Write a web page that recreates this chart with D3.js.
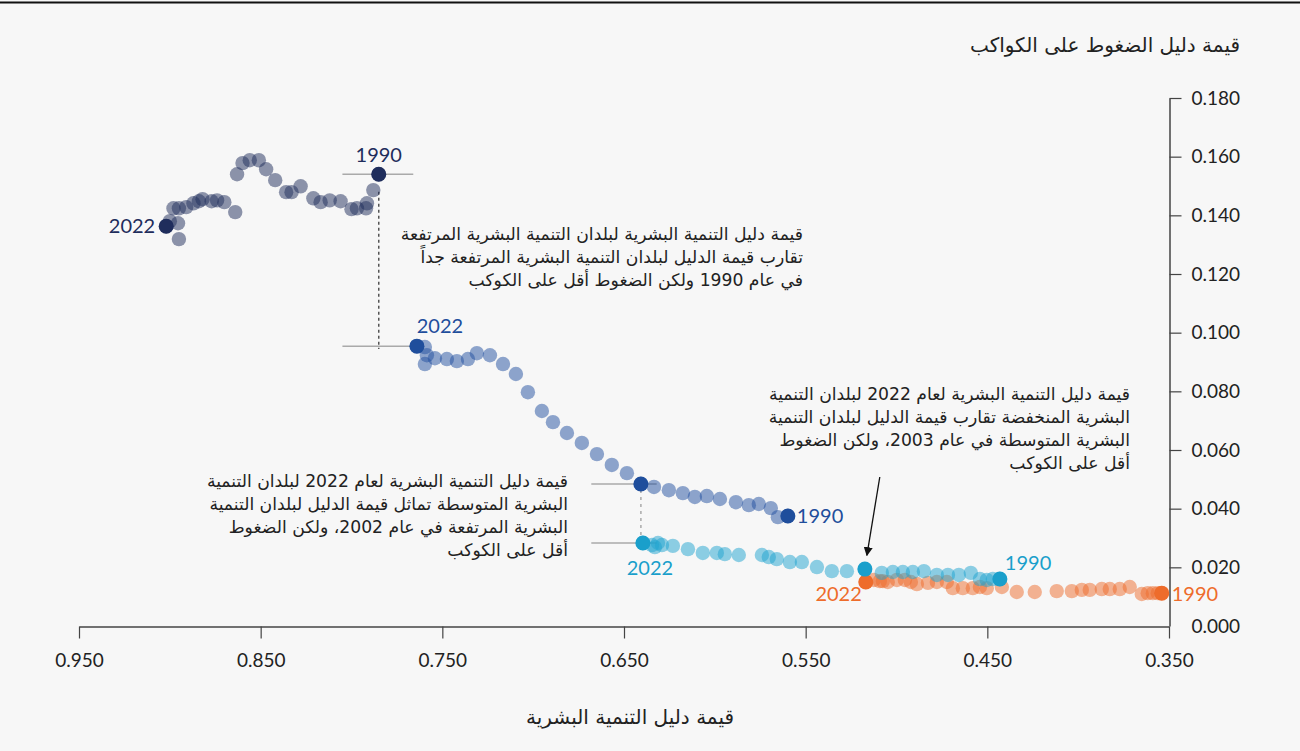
<!DOCTYPE html>
<html><head><meta charset="utf-8">
<script src="https://cdn.jsdelivr.net/npm/d3@7"></script>
<style>
body{margin:0;background:#f7f7f7;}
svg{display:block;}
.ar{font-family:"DejaVu Sans",sans-serif;}
.num{font-family:Lato,"Open Sans",sans-serif;}
</style>
</head><body>
<svg id="chart" width="1300" height="751"></svg>
<script>
// Years 1990 .. 2022 (index 0 = 1990, last = 2022)
const years = d3.range(1990, 2023);

const hdiVeryHigh = [0.785,0.788,0.7915,0.792,0.797,0.800,0.806,0.812,0.817,0.821,0.828,0.833,0.836,0.842,0.847,0.851,0.856,0.860,0.863,0.864,0.870,0.874,0.877,0.882,0.884,0.887,0.891,0.895,0.898,0.900,0.8955,0.895,0.902];
const ppiVeryHigh = [0.1540,0.1486,0.1441,0.1424,0.1424,0.1421,0.1448,0.1451,0.1445,0.1458,0.1499,0.1479,0.1479,0.1520,0.1557,0.1588,0.1588,0.1578,0.1540,0.1411,0.1445,0.1451,0.1448,0.1455,0.1448,0.1441,0.1428,0.1424,0.1424,0.1380,0.1373,0.1319,0.1363];

const hdiHigh = [0.5598,0.5653,0.5692,0.5758,0.5813,0.5884,0.5972,0.6044,0.611,0.6176,0.6253,0.6335,0.6407,0.6484,0.6567,0.6649,0.6732,0.6814,0.6891,0.6952,0.7029,0.7095,0.7166,0.7238,0.731,0.7359,0.742,0.7475,0.7541,0.7596,0.7585,0.7596,0.764];
const ppiHigh = [0.0375,0.0371,0.0402,0.0416,0.0412,0.0422,0.0433,0.0443,0.0440,0.0453,0.0463,0.0474,0.0484,0.0521,0.0549,0.0586,0.0624,0.0658,0.0695,0.0733,0.0797,0.0859,0.0893,0.0923,0.0930,0.0910,0.0903,0.0910,0.0913,0.0893,0.0923,0.0951,0.0954];

const hdiMedium = [0.4431,0.447,0.4503,0.4541,0.4591,0.4657,0.4717,0.4778,0.4849,0.491,0.4965,0.502,0.5081,0.5174,0.5273,0.5356,0.5438,0.5521,0.5587,0.5659,0.5703,0.5741,0.5868,0.5945,0.5989,0.6066,0.6148,0.6231,0.6291,0.633,0.6313,0.6346,0.6396];
const ppiMedium = [0.0160,0.0160,0.0157,0.0160,0.0181,0.0174,0.0174,0.0174,0.0187,0.0184,0.0184,0.0184,0.0181,0.0194,0.0187,0.0187,0.0201,0.0218,0.0218,0.0228,0.0235,0.0242,0.0242,0.0245,0.0249,0.0249,0.0262,0.0273,0.0276,0.0269,0.0283,0.0276,0.0283];

const hdiLow = [0.354,0.3562,0.3589,0.3617,0.365,0.3716,0.3771,0.3826,0.387,0.3936,0.398,0.4035,0.4118,0.4239,0.4338,0.442,0.4503,0.4541,0.458,0.4635,0.469,0.4723,0.4778,0.4827,0.4888,0.4921,0.4954,0.4998,0.5048,0.5075,0.5092,0.5125,0.5169];
const ppiLow = [0.0112,0.0112,0.0112,0.0112,0.0109,0.0133,0.0126,0.0126,0.0126,0.0123,0.0123,0.0119,0.0119,0.0116,0.0116,0.0133,0.0129,0.0133,0.0129,0.0129,0.0129,0.0150,0.0150,0.0147,0.0143,0.0150,0.0157,0.0157,0.0150,0.0153,0.0153,0.0157,0.0150];

const xTicks = [0.950,0.850,0.750,0.650,0.550,0.450,0.350];
const yTicks = [0,0.02,0.04,0.06,0.08,0.10,0.12,0.14,0.16,0.18];

const xTitle = "قيمة دليل التنمية البشرية";
const yTitle = "قيمة دليل الضغوط على الكواكب";

const note1 = ["قيمة دليل التنمية البشرية لبلدان التنمية البشرية المرتفعة",
               "تقارب قيمة الدليل لبلدان التنمية البشرية المرتفعة جداً",
               "في عام 1990 ولكن الضغوط أقل على الكوكب"];
const note2 = ["قيمة دليل التنمية البشرية لعام 2022 لبلدان التنمية",
               "البشرية المنخفضة تقارب قيمة الدليل لبلدان التنمية",
               "البشرية المتوسطة في عام 2003، ولكن الضغوط",
               "أقل على الكوكب"];
const note3 = ["قيمة دليل التنمية البشرية لعام 2022 لبلدان التنمية",
               "البشرية المتوسطة تماثل قيمة الدليل لبلدان التنمية",
               "البشرية المرتفعة في عام 2002، ولكن الضغوط",
               "أقل على الكوكب"];

const series = [
  {name:"low", hdi:hdiLow, ppi:ppiLow, light:"#ee6c2b", key:"#ee6c2b", lab:"#ee6c2b",
   keys:[{i:0, dx:10, dy:8, anchor:"start"},{i:32, dx:-4, dy:19, anchor:"end"}]},
  {name:"medium", hdi:hdiMedium, ppi:ppiMedium, light:"#1fa4cf", key:"#1a9fcb", lab:"#1a9fcb",
   keys:[{i:0, dx:5, dy:-9, anchor:"start"},{i:32, dx:7, dy:32, anchor:"middle"}], extra:[13]},
  {name:"high", hdi:hdiHigh, ppi:ppiHigh, light:"#2150a0", key:"#1f4e9c", lab:"#1f4e9c",
   keys:[{i:0, dx:9, dy:7, anchor:"start"},{i:32, dx:23, dy:-13, anchor:"middle"}], extra:[12]},
  {name:"veryhigh", hdi:hdiVeryHigh, ppi:ppiVeryHigh, light:"#1f2d5c", key:"#1f2d5c", lab:"#1f2d5c",
   keys:[{i:0, dx:0, dy:-12, anchor:"middle"},{i:32, dx:-11, dy:7, anchor:"end"}]}
];

const svg = d3.select("#chart");
const x = d3.scaleLinear().domain([0.95, 0.35]).range([79, 1169]);
const y = d3.scaleLinear().domain([0, 0.18]).range([626, 98]);

// top rule
svg.append("line").attr("x1",0).attr("x2",1300).attr("y1",2.5).attr("y2",2.5)
  .attr("stroke","#111").attr("stroke-width",2);

// axes
const xAxis = svg.append("g").attr("transform","translate(0,626.5)")
  .call(d3.axisBottom(x).tickValues(xTicks).tickFormat(d3.format(".3f")).tickSize(12).tickPadding(15).tickSizeOuter(0));
const yAxis = svg.append("g").attr("transform","translate(1169.5,0)")
  .call(d3.axisRight(y).tickValues(yTicks).tickFormat(d3.format(".3f")).tickSize(12).tickPadding(10).tickSizeOuter(0));
[xAxis,yAxis].forEach(g=>{
  g.select(".domain").attr("stroke","#444").attr("stroke-width",1.5);
  g.selectAll(".tick line").attr("stroke","#444").attr("stroke-width",1.2);
  g.selectAll(".tick text").attr("class","num").attr("font-size",19).attr("fill","#222");
});
yAxis.selectAll(".tick").filter(d=>d===0).select("line").remove();

svg.append("text").attr("class","ar").attr("x",630).attr("y",724).attr("text-anchor","middle")
  .attr("font-size",20).attr("fill","#222").text(xTitle);
svg.append("text").attr("class","ar").attr("x",1240).attr("y",52).attr("text-anchor","end")
  .attr("font-size",20).attr("fill","#222").text(yTitle);

// guide lines (data units)
const guides = [
  {x1:0.805, x2:0.766, y1:ppiVeryHigh[0], y2:ppiVeryHigh[0], c:"#aaa", dash:null},
  {x1:0.805, x2:hdiHigh[32], y1:ppiHigh[32], y2:ppiHigh[32], c:"#aaa", dash:null},
  {x1:0.668, x2:0.632, y1:ppiHigh[12], y2:ppiHigh[12], c:"#aaa", dash:null},
  {x1:0.668, x2:0.632, y1:ppiMedium[32], y2:ppiMedium[32], c:"#aaa", dash:null},
  {x1:hdiVeryHigh[0], x2:hdiVeryHigh[0], y1:0.148, y2:ppiHigh[32]-0.001, c:"#555", dash:"3,3"},
  {x1:hdiHigh[12], x2:hdiHigh[12], y1:ppiHigh[12]-0.002, y2:ppiMedium[32]+0.002, c:"#aaa", dash:"3,4"}
];
svg.append("g").selectAll("line").data(guides).join("line")
  .attr("x1",d=>x(d.x1)).attr("x2",d=>x(d.x2)).attr("y1",d=>y(d.y1)).attr("y2",d=>y(d.y2))
  .attr("stroke",d=>d.c).attr("stroke-width",1.5).attr("stroke-dasharray",d=>d.dash);

// arrow
svg.append("defs").append("marker").attr("id","ah").attr("viewBox","0 0 10 10")
  .attr("refX",9).attr("refY",5).attr("markerWidth",7).attr("markerHeight",7).attr("orient","auto")
  .append("path").attr("d","M0,0 L10,5 L0,10 z").attr("fill","#111");
svg.append("line").attr("x1",x(0.5092)).attr("y1",y(0.0508)).attr("x2",x(0.5163)).attr("y2",y(0.0241))
  .attr("stroke","#111").attr("stroke-width",1.3).attr("marker-end","url(#ah)");

// dots
series.forEach(s=>{
  const pts = s.hdi.map((h,i)=>({h, p:s.ppi[i], i}));
  svg.append("g").selectAll("circle").data(pts).join("circle")
    .attr("cx",d=>x(d.h)).attr("cy",d=>y(d.p)).attr("r",7.2)
    .attr("fill",s.light).attr("fill-opacity",0.5);
});
series.forEach(s=>{
  const kidx = s.keys.map(k=>k.i).concat(s.extra||[]);
  svg.append("g").selectAll("circle").data(kidx).join("circle")
    .attr("cx",i=>x(s.hdi[i])).attr("cy",i=>y(s.ppi[i])).attr("r",7.5).attr("fill",s.key);
  svg.append("g").selectAll("text").data(s.keys).join("text").attr("class","num")
    .attr("x",k=>x(s.hdi[k.i])+k.dx).attr("y",k=>y(s.ppi[k.i])+k.dy)
    .attr("text-anchor",k=>k.anchor).attr("font-size",20).attr("fill",s.lab)
    .text(k=>years[k.i]);
});

// annotations
function note(lines, xr, y0){
  const t = svg.append("text").attr("class","ar").attr("font-size",17.2).attr("fill","#222").attr("text-anchor","end");
  lines.forEach((l,i)=>t.append("tspan").attr("x",xr).attr("y",y0+i*23).text(l));
}
note(note1, 803, 240);
note(note2, 1130, 400);
note(note3, 568, 487);
</script>
</body></html>
